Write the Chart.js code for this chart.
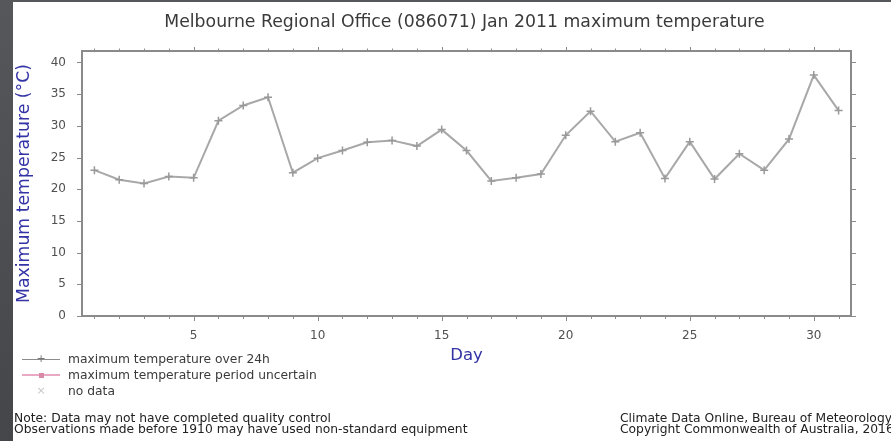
<!DOCTYPE html>
<html>
<head>
<meta charset="utf-8">
<script src="https://cdn.jsdelivr.net/npm/chart.js@4"></script>
<style>
  html, body { margin: 0; padding: 0; }
  body {
    width: 891px; height: 441px; overflow: hidden; position: relative;
    background: linear-gradient(#56575b, #45464a);
    font-family: "DejaVu Sans", sans-serif;
  }
  #panel { position: absolute; left: 13px; top: 2px; width: 878px; height: 439px; background: #fff; }
  #chart { position: absolute; left: 0; top: 0; }
  .txt { position: absolute; white-space: nowrap; }
  #title { left: 464.5px; top: 11px; transform: translateX(-50%); font-size: 17.3px; line-height: 20px; color: #3a3a3a; }
  .legend { left: 68px; font-size: 12.3px; line-height: 14px; color: #3a3a3a; }
  .sym { position: absolute; left: 22px; width: 38px; height: 14px; }
  .sym .ln { position: absolute; left: 0; right: 0; top: 6.5px; height: 1px; }
  .sym .mk { position: absolute; left: 0; right: 0; top: 0; text-align: center; font-size: 11px; line-height: 14px; }
  .note { font-size: 12.3px; line-height: 11px; color: #222; }
</style>
</head>
<body>
<div id="panel"></div>
<canvas id="chart" width="891" height="441"></canvas>

<div id="title" class="txt">Melbourne Regional Office (086071) Jan 2011 maximum temperature</div>

<div class="sym" style="top:352px"><div class="ln" style="background:#8c8c8c"></div><div class="mk" style="color:#777">+</div></div>
<div class="txt legend" style="top:352px">maximum temperature over 24h</div>
<div class="sym" style="top:368px"><div class="ln" style="background:#eaa9c2;height:2px;top:6px"></div><div class="mk"><span style="display:inline-block;width:5px;height:5px;background:#d98aa9;margin-top:4.5px;vertical-align:top"></span></div></div>
<div class="txt legend" style="top:368px">maximum temperature period uncertain</div>
<div class="sym" style="top:384px"><div class="mk" style="color:#c8c8c8">×</div></div>
<div class="txt legend" style="top:384px">no data</div>

<div class="txt note" style="left:14px; top:413px">Note: Data may not have completed quality control<br>Observations made before 1910 may have used non-standard equipment</div>
<div class="txt note" style="left:620px; top:413px">Climate Data Online, Bureau of Meteorology<br>Copyright Commonwealth of Australia, 2016</div>

<script>
// Daily maximum temperature, January 2011
const days = [1, 2, 3, 4, 5, 6, 7, 8, 9, 10, 11, 12, 13, 14, 15, 16,
              17, 18, 19, 20, 21, 22, 23, 24, 25, 26, 27, 28, 29, 30, 31];
const maxTemp = [23.0, 21.5, 20.9, 22.0, 21.8, 30.8, 33.2, 34.5, 22.6, 24.9, 26.1,
                 27.4, 27.7, 26.8, 29.4, 26.1, 21.3, 21.8, 22.4, 28.5, 32.3, 27.5,
                 28.9, 21.7, 27.5, 21.6, 25.6, 23.0, 27.9, 38.0, 32.4];
const dayTicks = [5, 10, 15, 20, 25, 30];
const tempTicks = [0, 5, 10, 15, 20, 25, 30, 35, 40];

const axisBlue = '#3333a6';
const frameGrey = '#8a8a8a';

// Plot frame with tick marks on all four sides
const framePlugin = {
  id: 'frame',
  beforeDatasetsDraw(chart) {
    const { ctx, chartArea: a, scales: { x, y } } = chart;
    ctx.save();
    ctx.strokeStyle = frameGrey;
    ctx.lineWidth = 1;
    ctx.beginPath();
    days.forEach(d => {
      const px = Math.round(x.getPixelForValue(d)) + 0.5;
      const major = d % 5 === 0;
      ctx.moveTo(px, a.bottom); ctx.lineTo(px, a.bottom + (major ? 5 : 3));
      ctx.moveTo(px, a.top); ctx.lineTo(px, a.top - (major ? 4 : 2.5));
    });
    tempTicks.forEach(t => {
      const py = Math.round(y.getPixelForValue(t)) + 0.5;
      ctx.moveTo(a.left - 5, py); ctx.lineTo(a.left, py);
      ctx.moveTo(a.right, py); ctx.lineTo(a.right + 5, py);
    });
    ctx.stroke();
    ctx.lineWidth = 2;
    ctx.strokeRect(a.left, a.top, a.right - a.left, a.bottom - a.top);
    ctx.restore();
  }
};

new Chart(document.getElementById('chart'), {
  type: 'line',
  data: {
    datasets: [{
      label: 'maximum temperature over 24h',
      data: days.map((d, i) => ({ x: d, y: maxTemp[i] })),
      borderColor: '#a8a8a8',
      borderWidth: 2,
      pointStyle: 'cross',
      pointRadius: 4,
      pointBorderColor: '#999999',
      pointBorderWidth: 1.5,
      tension: 0
    }]
  },
  options: {
    responsive: false,
    animation: false,
    devicePixelRatio: 1,
    layout: { padding: { left: 0, top: 51, right: 40, bottom: 75 } },
    plugins: { legend: { display: false }, title: { display: false }, tooltip: { enabled: false } },
    scales: {
      x: {
        type: 'linear',
        position: 'bottom',
        min: 0.5,
        max: 31.5,
        afterBuildTicks: s => { s.ticks = dayTicks.map(v => ({ value: v })); },
        afterFit: s => { s.height = 50; },
        grid: { display: false, drawTicks: false },
        border: { display: false },
        ticks: { padding: 13, color: '#505050', font: { family: 'DejaVu Sans', size: 12 }, maxRotation: 0 },
        title: { display: true, text: 'Day', color: axisBlue, font: { family: 'DejaVu Sans', size: 16.5 }, padding: { top: 0, bottom: 0 } }
      },
      y: {
        type: 'linear',
        position: 'left',
        min: 0,
        max: 41.8,
        afterBuildTicks: s => { s.ticks = tempTicks.map(v => ({ value: v })); },
        afterFit: s => { s.width = 82; },
        grid: { display: false, drawTicks: false },
        border: { display: false },
        ticks: { padding: 16, color: '#505050', font: { family: 'DejaVu Sans', size: 12 } },
        title: { display: true, text: 'Maximum temperature (°C)', color: axisBlue, font: { family: 'DejaVu Sans', size: 17.3 }, padding: { top: 14 } }
      }
    }
  },
  plugins: [framePlugin]
});
</script>
</body>
</html>
